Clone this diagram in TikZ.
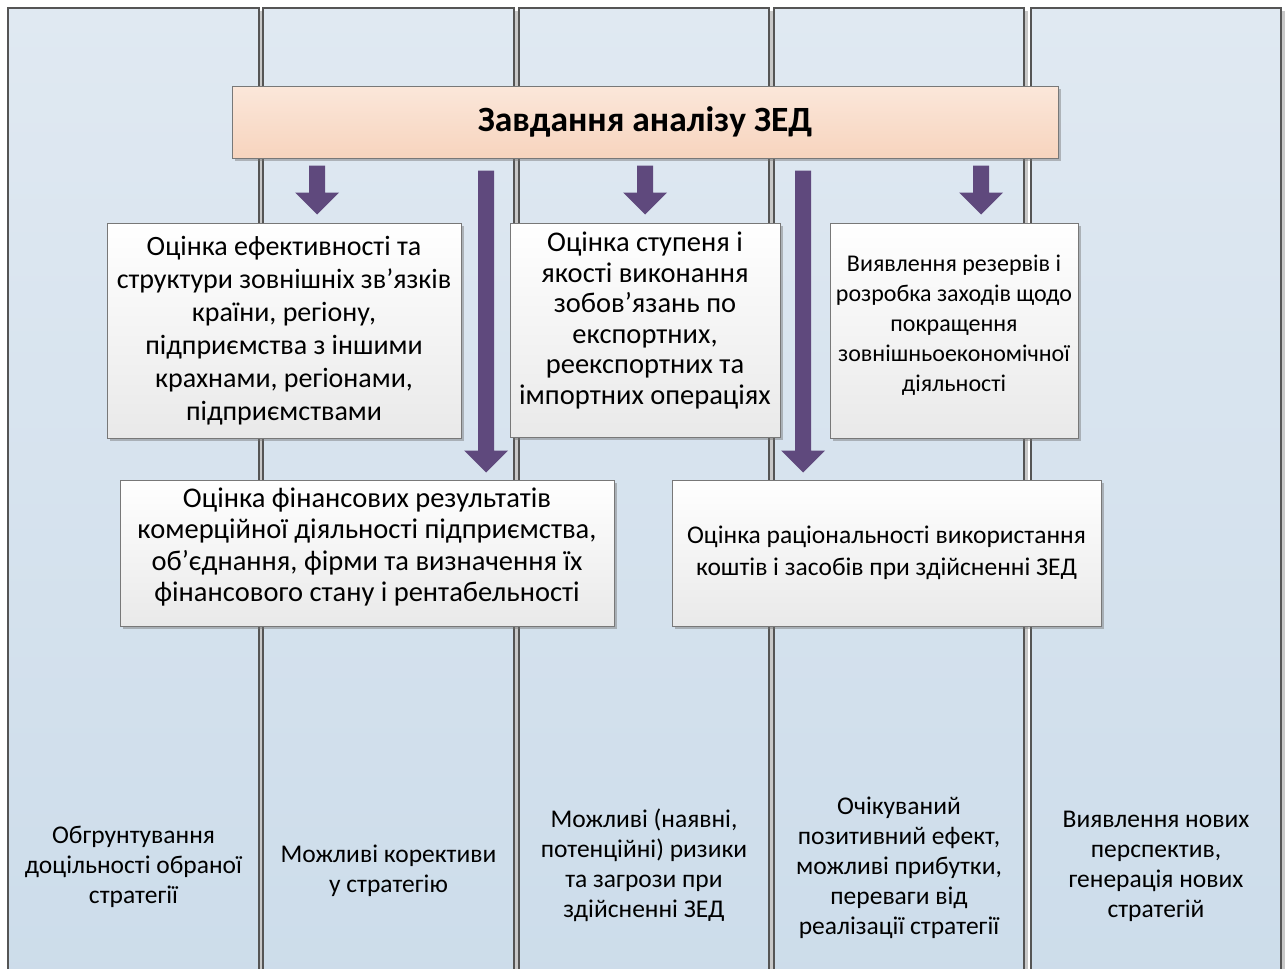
\documentclass[tikz,border=0pt]{standalone}
\usepackage{fontspec}
\setmainfont{Carlito}
\usetikzlibrary{calc,shadows}

\definecolor{laneTop}{RGB}{224,233,242}
\definecolor{laneBot}{RGB}{204,220,234}
\definecolor{laneEdge}{RGB}{85,85,85}
\definecolor{laneShadow}{RGB}{200,200,200}
\definecolor{capTop}{RGB}{251,231,218}
\definecolor{capBot}{RGB}{247,212,190}
\definecolor{boxEdge}{RGB}{120,120,120}
\definecolor{boxBot}{RGB}{233,233,233}
\definecolor{arrowPurple}{RGB}{95,73,125}

% thick block arrow running straight down from #1 to #2,
% #3 = gap below the start, #4 = gap above the target
\newcommand{\fatarrow}[4]{%
  \fill[arrowPurple] let \p1=(#1), \p2=(#2) in
    (\x1-8pt,\y1-#3) -- (\x1+8pt,\y1-#3) -- (\x1+8pt,\y2+#4+22pt)
    -- (\x1+22pt,\y2+#4+22pt) -- (\x1,\y2+#4) -- (\x1-22pt,\y2+#4+22pt)
    -- (\x1-8pt,\y2+#4+22pt) -- cycle;}

\begin{document}
\begin{tikzpicture}[x=1pt,y=-1pt,
  lane/.style={draw=laneEdge, line width=1.2pt, top color=laneTop, bottom color=laneBot},
  laneshadow/.style={fill=laneShadow},
  capbox/.style={draw=boxEdge, line width=1pt, top color=capTop, bottom color=capBot,
    drop shadow={shadow xshift=2.5pt, shadow yshift=-2.5pt, opacity=0.45, fill=black!55},
    inner sep=0pt, font=\fontsize{35.5}{42}\selectfont\bfseries},
  taskbox/.style={draw=boxEdge, line width=1pt, top color=white, bottom color=boxBot,
    drop shadow={shadow xshift=2.5pt, shadow yshift=-2.5pt, opacity=0.45, fill=black!55},
    align=center, inner sep=0pt, font=\fontsize{28}{33}\selectfont},
  note/.style={align=center, inner sep=0pt, font=\fontsize{25.5}{30}\selectfont}]

\useasboundingbox (0,0) rectangle (1286,969);
\clip (0,0) rectangle (1286,969);
\fill[white] (0,0) rectangle (1286,969);

% five vertical lanes running off the bottom edge
\foreach \l/\r in {8/259, 263/514, 519/769, 774/1024, 1031/1281}{
  \fill[laneshadow] (\l+3,11) rectangle (\r+4,1000);
  \path[lane] (\l,8) rectangle (\r,1000);
}

% heading
\node[capbox, minimum width=826pt, minimum height=72pt] (title) at (645,122)
  {Завдання аналізу ЗЕД};

% upper row of tasks
\node[taskbox, minimum width=354pt, minimum height=215pt] (effic) at (284,330.5)
  {Оцінка ефективності та\\структури зовнішніх зв’язків\\країни, регіону,\\підприємства з іншими\\крахнами, регіонами,\\підприємствами};
\node[taskbox, minimum width=270pt, minimum height=214pt, text depth=24pt,
      font=\fontsize{28.5}{30.5}\selectfont] (oblig) at (645,330)
  {Оцінка ступеня і\\якості виконання\\зобов’язань по\\експортних,\\реекспортних та\\імпортних операціях};
\node[taskbox, minimum width=248pt, minimum height=215pt, text depth=14pt,
      font=\fontsize{24}{30}\selectfont] (reserv) at (954,330.5)
  {Виявлення резервів і\\розробка заходів щодо\\покращення\\зовнішньоекономічної\\діяльності};

% lower row of tasks
\node[taskbox, minimum width=494pt, minimum height=146pt, text depth=17pt,
      font=\fontsize{28.5}{31.5}\selectfont] (finres) at (367,553)
  {Оцінка фінансових результатів\\комерційної діяльності підприємства,\\об’єднання, фірми та визначення їх\\фінансового стану і рентабельності};
\node[taskbox, minimum width=429pt, minimum height=146pt,
      font=\fontsize{25.5}{32}\selectfont] (funds) at (886.5,553)
  {Оцінка раціональності використання\\коштів і засобів при здійсненні ЗЕД};

% arrow columns
\coordinate (ax1) at (317,0);
\coordinate (ax2) at (486,0);
\coordinate (ax3) at (645,0);
\coordinate (ax4) at (803,0);
\coordinate (ax5) at (981,0);
\fatarrow{title.south -| ax1}{effic.north -| ax1}{7pt}{8pt}
\fatarrow{title.south -| ax3}{oblig.north -| ax3}{7pt}{8pt}
\fatarrow{title.south -| ax5}{reserv.north -| ax5}{7pt}{8pt}
\fatarrow{title.south -| ax2}{finres.north -| ax2}{12pt}{7pt}
\fatarrow{title.south -| ax4}{funds.north -| ax4}{12pt}{7pt}

% outcome captions at the foot of each lane
\node[note] (out1) at (133.5,867) {Обгрунтування\\доцільності обраної\\стратегії};
\node[note] (out2) at (388.5,871) {Можливі корективи\\у стратегію};
\node[note] (out3) at (644,865) {Можливі (наявні,\\потенційні) ризики\\та загрози при\\здійсненні ЗЕД};
\node[note] (out4) at (899,867.5) {Очікуваний\\позитивний ефект,\\можливі прибутки,\\переваги від\\реалізації стратегії};
\node[note] (out5) at (1156,866.5) {Виявлення нових\\перспектив,\\генерація нових\\стратегій};
\end{tikzpicture}
\end{document}
